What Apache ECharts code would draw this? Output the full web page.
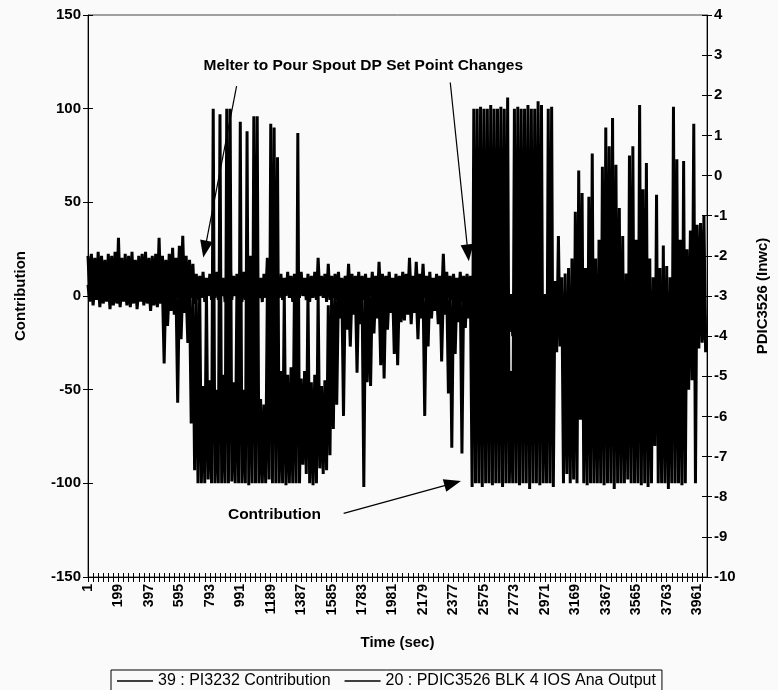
<!DOCTYPE html>
<html>
<head>
<meta charset="utf-8">
<script src="https://cdn.jsdelivr.net/npm/echarts@6/dist/echarts.min.js"></script>
<style>
  html, body { margin: 0; padding: 0; background: #fafafa; }
  #chart { width: 778px; height: 690px; }
</style>
</head>
<body>
<div id="chart"></div>
<script>
// ---- Data ----
// time axis: seconds 1..4025, labels every 198 s
const lastSecond = 4025;
const binSeconds = 22; // each bin: one high and one low reading
const seriesNames = ['39 : PI3232 Contribution', '20 : PDIC3526 BLK 4 IOS Ana Output'];

// 39 : PI3232 Contribution (left axis) - high / low per 22 s bin
const contribHigh = [
  6, 8, 5, 9, 7, 4, 8, 6, 9, 5,
  7, 5, 8, 6, 9, 4, 7, 8, 5, 6,
  8, 5, 4, 6, 3, 7, 4, 5, 6, 3,
  2, 0, -2, 5, -48, 3, -45, 100, -50, 97,
  -42, 100, 100, -46, 4, 93, -50, 88, 2, 96,
  96, -55, -58, 3, 92, 90, 74, -40, 2, -42,
  -38, 4, 87, -44, -40, 3, -46, -42, 2, -48,
  -45, -5, 2, 4, 3, 5, 2, 4, 3, 5,
  4, 2, 3, 5, 4, 3, 2, 5, 4, 3,
  5, 3, 4, 2, 5, 3, 4, 2, 5, 3,
  4, 5, 3, 2, 4, 3, 5, 2, 4, 3,
  5, 2, 4, 3, 100, 100, 101, 100, 100, 102,
  100, 100, 101, 100, 106, -40, 100, 101, 100, 100,
  102, 100, 100, 104, 102, -5, 100, 101, 8, 32,
  10, 12, 15, 20, 45, 67, 55, 15, 53, 76,
  20, 30, 69, 90, 80, 95, 70, 47, 32, 12,
  75, 80, 30, 102, 57, 71, 20, 10, 54, 15,
  27, 16, 10, 101, 73, 30, 72, 25, 35, 92,
  38, 39, 43
];
const contribLow = [
  -3, -5, -2, -6, -4, -3, -7, -5, -4, -6,
  -3, -5, -6, -4, -7, -3, -5, -4, -8, -5,
  -6, -4, -36, -16, -8, -10, -57, -23, -9, -25,
  -68, -93, -100, -100, -100, -98, -100, -100, -100, -100,
  -100, -100, -99, -100, -100, -100, -100, -101, -100, -100,
  -100, -100, -100, -98, -100, -100, -100, -100, -101, -100,
  -100, -100, -100, -90, -95, -100, -101, -100, -92, -95,
  -93, -85, -71, -58, -12, -64, -18, -27, -10, -41,
  -15, -102, -46, -48, -20, -12, -37, -44, -18, -9,
  -31, -37, -14, -13, -10, -15, -9, -23, -12, -64,
  -27, -12, -8, -15, -35, -10, -52, -81, -31, -14,
  -84, -17, -12, -102, -100, -100, -102, -100, -100, -101,
  -100, -100, -102, -100, -100, -100, -100, -101, -100, -100,
  -103, -100, -100, -101, -100, -100, -100, -102, -30, -27,
  -100, -95, -100, -98, -100, -66, -100, -101, -100, -100,
  -100, -100, -101, -100, -100, -103, -100, -100, -100, -98,
  -100, -100, -100, -101, -100, -102, -100, -80, -100, -100,
  -100, -103, -100, -100, -100, -101, -100, -50, -45, -100,
  -28, -25, -30
];

// 20 : PDIC3526 BLK 4 IOS Ana Output (right axis, Inwc) - high / low per bin
const pdicHigh = [
  -2.0, -1.95, -2.05, -1.9, -2.0, -2.1, -1.95, -2.0, -1.9, -1.55,
  -2.05, -1.95, -2.0, -1.9, -2.1, -2.0, -1.95, -1.9, -2.05, -2.0,
  -1.95, -1.55, -2.0, -2.1, -1.95, -1.8, -2.05, -1.75, -1.5, -2.0,
  -2.1, -2.2, -2.45, -2.5, -2.4, -2.55, -2.45, -2.5, -2.4, -2.5,
  -2.55, -2.45, -2.15, -2.5, -2.45, -2.55, -2.4, -2.5, -2.0, -2.45,
  -2.5, -2.55, -2.45, -2.05, -2.5, -2.4, -2.5, -2.45, -2.55, -2.4,
  -2.5, -2.45, -2.5, -2.4, -2.55, -2.45, -2.5, -2.4, -2.05, -2.5,
  -2.45, -2.2, -2.5, -2.45, -2.4, -2.55, -2.5, -2.2, -2.45, -2.5,
  -2.4, -2.5, -2.45, -2.55, -2.4, -2.5, -2.15, -2.45, -2.5, -2.4,
  -2.55, -2.45, -2.5, -2.4, -2.45, -2.05, -2.5, -2.15, -2.45, -2.2,
  -2.5, -2.4, -2.55, -2.45, -2.5, -1.95, -2.4, -2.5, -2.45, -2.55,
  -2.4, -2.5, -2.45, -2.5, -2.9, -2.95, -3.0, -2.9, -2.95, -2.85,
  -2.95, -3.0, -2.9, -2.95, -2.9, -2.95, -2.85, -2.95, -3.0, -2.9,
  -2.95, -2.9, -3.0, -2.95, -2.9, -2.95, -2.85, -2.95, -3.0, -2.9,
  -2.85, -2.95, -2.9, -3.0, -2.95, -2.9, -2.85, -2.95, -3.0, -2.9,
  -2.95, -2.85, -2.9, -2.95, -3.0, -2.9, -2.95, -2.85, -2.9, -2.95,
  -3.0, -2.9, -2.85, -2.95, -2.9, -3.0, -2.95, -2.85, -2.9, -2.95,
  -2.9, -3.0, -2.85, -2.95, -2.9, -2.95, -3.0, -2.85, -2.9, -2.95,
  -2.9, -2.85, -2.95
];
const pdicLow = [
  -3.0, -2.95, -3.05, -2.9, -3.0, -3.1, -2.95, -3.0, -3.05, -2.95,
  -3.0, -3.1, -2.95, -3.0, -3.05, -2.9, -3.0, -3.15, -2.95, -3.0,
  -3.05, -2.95, -3.0, -3.1, -2.95, -3.0, -3.05, -2.9, -3.0, -3.1,
  -3.05, -3.2, -3.1, -3.05, -3.15, -3.0, -3.1, -3.05, -3.1, -3.0,
  -3.15, -3.05, -3.1, -3.0, -3.05, -3.15, -3.1, -3.05, -3.0, -3.1,
  -3.05, -3.15, -3.05, -3.1, -3.0, -3.15, -3.05, -3.1, -3.0, -3.05,
  -3.15, -3.1, -3.05, -3.0, -3.1, -3.15, -3.05, -3.1, -3.0, -3.05,
  -3.15, -3.1, -3.05, -3.1, -3.0, -3.15, -3.05, -3.1, -3.0, -3.05,
  -3.15, -3.1, -3.05, -3.0, -3.1, -3.15, -3.05, -3.1, -3.0, -3.05,
  -3.15, -3.1, -3.05, -3.0, -3.1, -3.15, -3.05, -3.1, -3.0, -3.05,
  -3.15, -3.1, -3.05, -3.0, -3.1, -3.15, -3.05, -3.1, -3.0, -3.05,
  -3.15, -3.1, -3.05, -3.2, -3.9, -4.0, -3.95, -4.05, -3.9, -3.95,
  -4.0, -3.9, -4.05, -3.95, -3.9, -4.0, -3.95, -4.05, -3.9, -4.0,
  -3.95, -4.05, -3.9, -4.0, -3.95, -3.9, -4.05, -4.0, -3.95, -3.9,
  -4.0, -3.95, -4.05, -3.9, -4.0, -3.95, -3.9, -4.05, -4.0, -3.95,
  -3.9, -4.0, -4.05, -3.95, -3.9, -4.0, -3.95, -4.05, -3.9, -4.0,
  -3.95, -3.9, -4.05, -4.0, -3.95, -3.9, -4.0, -4.05, -3.95, -3.9,
  -4.0, -3.95, -4.05, -3.9, -4.0, -3.95, -3.9, -4.05, -4.0, -4.1,
  -4.0, -4.1, -3.95
];

// Annotations: [second, value on left axis]
const noteText = 'Melter to Pour Spout DP Set Point Changes';
const noteAt = [1791, 123];
const contribNoteAt = [1213, -117];
const arrows = [
  [[967, 112], [761, 25]],
  [[2356, 114], [2471, 23]],
  [[1663, -116], [2372, -100]]
];

// ---- Build ----
const categories = [];
for (let t = 1; t <= lastSecond; t++) categories.push(String(t));

function zigzag(high, low) {
  const pts = [];
  for (let i = 0; i < high.length; i++) {
    const idx = i * binSeconds;
    pts.push([idx, high[i]]);
    pts.push([idx + binSeconds / 2, low[i]]);
  }
  return pts;
}

const FONT = "'Liberation Sans', Arial, sans-serif";
const chart = echarts.init(document.getElementById('chart'), null, { renderer: 'canvas' });

const yBase = {
  splitLine: { show: false },
  axisLine: { show: true, onZero: false, lineStyle: { color: '#000', width: 1 } },
  axisTick: { show: true, length: 5, lineStyle: { color: '#000' } },
  axisLabel: { color: '#000', fontSize: 15, fontWeight: 'bold', fontFamily: FONT, margin: 7 },
  nameTextStyle: { color: '#000', fontSize: 15, fontWeight: 'bold', fontFamily: FONT }
};

chart.setOption({
  animation: false,
  backgroundColor: '#fafafa',
  textStyle: { fontFamily: FONT },
  grid: { left: 88, right: 65, top: 15, bottom: 113, show: true, borderColor: '#444', borderWidth: 1, backgroundColor: 'transparent' },
  legend: {
    data: seriesNames,
    left: 111, top: 670,
    icon: 'rect', itemWidth: 36, itemHeight: 1.5, itemGap: 14,
    borderColor: '#000', borderWidth: 1, padding: [3, 6, 3, 6],
    textStyle: { color: '#000', fontSize: 16, fontFamily: FONT }
  },
  xAxis: [{
    type: 'category', data: categories, boundaryGap: false, position: 'bottom',
    name: 'Time (sec)', nameLocation: 'middle', nameGap: 58,
    nameTextStyle: { color: '#000', fontSize: 15, fontWeight: 'bold', fontFamily: FONT },
    axisLine: { onZero: false, lineStyle: { color: '#000', width: 1 } },
    axisTick: { show: true, interval: 32, length: 5, lineStyle: { color: '#000' } },
    axisLabel: { interval: 197, rotate: 90, color: '#000', fontSize: 14, fontWeight: 'bold', fontFamily: FONT, margin: 7 },
    splitLine: { show: false }
  }, {
    type: 'category', data: categories, boundaryGap: false, position: 'bottom',
    axisLine: { show: false, onZero: false },
    axisTick: { show: true, inside: true, interval: 32, length: 4, lineStyle: { color: '#000' } },
    axisLabel: { show: false }, splitLine: { show: false }
  }],
  yAxis: [
    Object.assign({}, yBase, { type: 'value', position: 'left', min: -150, max: 150, interval: 50,
      name: 'Contribution', nameLocation: 'middle', nameGap: 60 }),
    Object.assign({}, yBase, { type: 'value', position: 'right', min: -10, max: 4, interval: 1,
      name: 'PDIC3526 (Inwc)', nameLocation: 'middle', nameGap: 48, nameRotate: 90 }),
    { type: 'value', position: 'left', min: -150, max: 150, interval: 50, splitLine: { show: false },
      axisLine: { show: false, onZero: false }, axisLabel: { show: false },
      axisTick: { show: true, inside: true, length: 5, lineStyle: { color: '#000' } } },
    { type: 'value', position: 'right', min: -10, max: 4, interval: 1, splitLine: { show: false },
      axisLine: { show: false, onZero: false }, axisLabel: { show: false },
      axisTick: { show: true, inside: true, length: 5, lineStyle: { color: '#000' } } }
  ],
  series: [{
    name: seriesNames[0], type: 'line', xAxisIndex: 0, yAxisIndex: 0,
    data: zigzag(contribHigh, contribLow),
    symbol: 'none', showSymbol: false,
    lineStyle: { color: '#000', width: 3, join: 'bevel' }, itemStyle: { color: '#000' },
    markLine: {
      silent: true, symbol: ['none', 'triangle'], symbolSize: [13, 17],
      label: { show: false },
      lineStyle: { color: '#000', width: 1.2, type: 'solid' },
      itemStyle: { color: '#000' },
      data: arrows.map(a => [{ coord: [a[0][0] - 1, a[0][1]] }, { coord: [a[1][0] - 1, a[1][1]] }])
    },
    markPoint: {
      silent: true, symbol: 'rect', symbolSize: 1,
      itemStyle: { color: 'rgba(0,0,0,0)' },
      label: { show: true, position: 'inside', formatter: '{b}', color: '#000', fontSize: 15.5, fontWeight: 'bold', fontFamily: FONT },
      data: [
        { name: noteText, coord: [noteAt[0] - 1, noteAt[1]] },
        { name: 'Contribution', coord: [contribNoteAt[0] - 1, contribNoteAt[1]] }
      ]
    }
  }, {
    name: seriesNames[1], type: 'line', xAxisIndex: 0, yAxisIndex: 1,
    data: zigzag(pdicHigh, pdicLow),
    symbol: 'none', showSymbol: false,
    lineStyle: { color: '#000', width: 3, join: 'bevel' }, itemStyle: { color: '#000' }
  }]
});
</script>
</body>
</html>
